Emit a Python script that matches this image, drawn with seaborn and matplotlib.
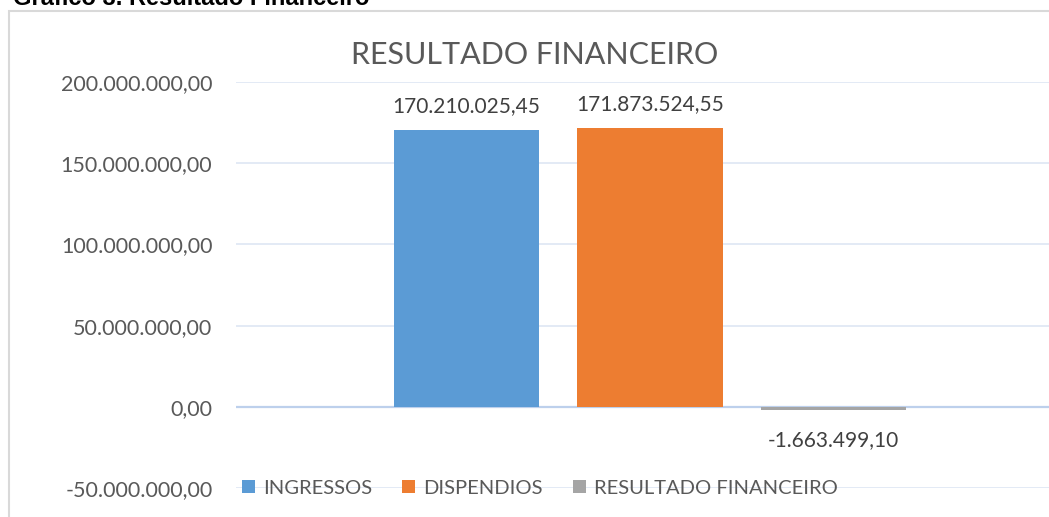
import numpy as np
import pandas as pd
import matplotlib
matplotlib.use("Agg")
import matplotlib.pyplot as plt
import seaborn as sns
from matplotlib.patches import Rectangle, Patch

# dados do gráfico
categorias = ["INGRESSOS", "DISPENDIOS", "RESULTADO FINANCEIRO"]
valores = [170210025.45, 171873524.55, -1663499.10]
cores = ["#5B9BD5", "#ED7D31", "#A5A5A5"]
y_ticks = [-50000000, 0, 50000000, 100000000, 150000000, 200000000]

def fmt_br(v):
    s = f"{v:,.2f}"
    return s.replace(",", "X").replace(".", ",").replace("X", ".")

df = pd.DataFrame({"categoria": categorias, "valor": valores})

sns.set_theme(style="white")
plt.rcParams["font.family"] = ["Lato", "DejaVu Sans"]

W, H = 1049, 517
fig = plt.figure(figsize=(W / 100, H / 100), dpi=100)

# moldura do gráfico
fig.patches.append(Rectangle((9 / W, -0.1), 1.2, 1 - 11 / H + 0.1,
                             transform=fig.transFigure, fill=False,
                             edgecolor="#D9D9D9", linewidth=1.5))

fig.text(13 / W, 1 - 5 / H, "Gráfico 3. Resultado Financeiro",
         family="Liberation Sans", weight="bold", fontsize=17,
         color="black", va="baseline", ha="left")

left, right = 236, 1064
top, bottom = 82, 488
ax = fig.add_axes([left / W, (H - bottom) / H, (right - left) / W, (bottom - top) / H])
ax.patch.set_alpha(0)

sns.barplot(data=df, x="categoria", y="valor", hue="categoria",
            palette=cores, width=0.79, saturation=1, legend=False, ax=ax,
            linewidth=0, edgecolor="none", zorder=3)

ax.set_ylim(-50000000, 200000000)
ax.set_xlim(-1.253, 3.253)
ax.set_yticks(y_ticks)
ax.set_yticklabels([fmt_br(v) for v in y_ticks], color="#595959", fontsize=15.5)
ax.tick_params(axis="y", length=0, pad=17)
ax.set_xticks([])
ax.set_xlabel("")
ax.set_ylabel("")
for s in ax.spines.values():
    s.set_visible(False)

for v in y_ticks:
    if v == 0:
        ax.axhline(0, color="#BDD0EC", linewidth=1.6, zorder=2)
    else:
        ax.axhline(v, color="#DEE6F3", linewidth=1.2, zorder=1)

for i, v in enumerate(valores):
    if v >= 0:
        ax.annotate(fmt_br(v), (i, v), xytext=(0, 13), textcoords="offset points",
                    ha="center", va="baseline", fontsize=15, color="#404040")
    else:
        ax.annotate(fmt_br(v), (i, v), xytext=(0, -26), textcoords="offset points",
                    ha="center", va="baseline", fontsize=15, color="#404040")

fig.text(535 / W, 1 - 55 / H, "RESULTADO FINANCEIRO", ha="center", va="center",
         fontsize=22, color="#595959")

handles = [Patch(facecolor=c, edgecolor="none") for c in cores]
fig.legend(handles, categorias, loc="center", bbox_to_anchor=(540 / W, 1 - 488 / H),
           ncol=3, frameon=False, fontsize=14.5, labelcolor="#595959",
           handlelength=0.65, handleheight=0.65, handletextpad=0.4, columnspacing=1.5)

fig.savefig("out.png", dpi=100)
